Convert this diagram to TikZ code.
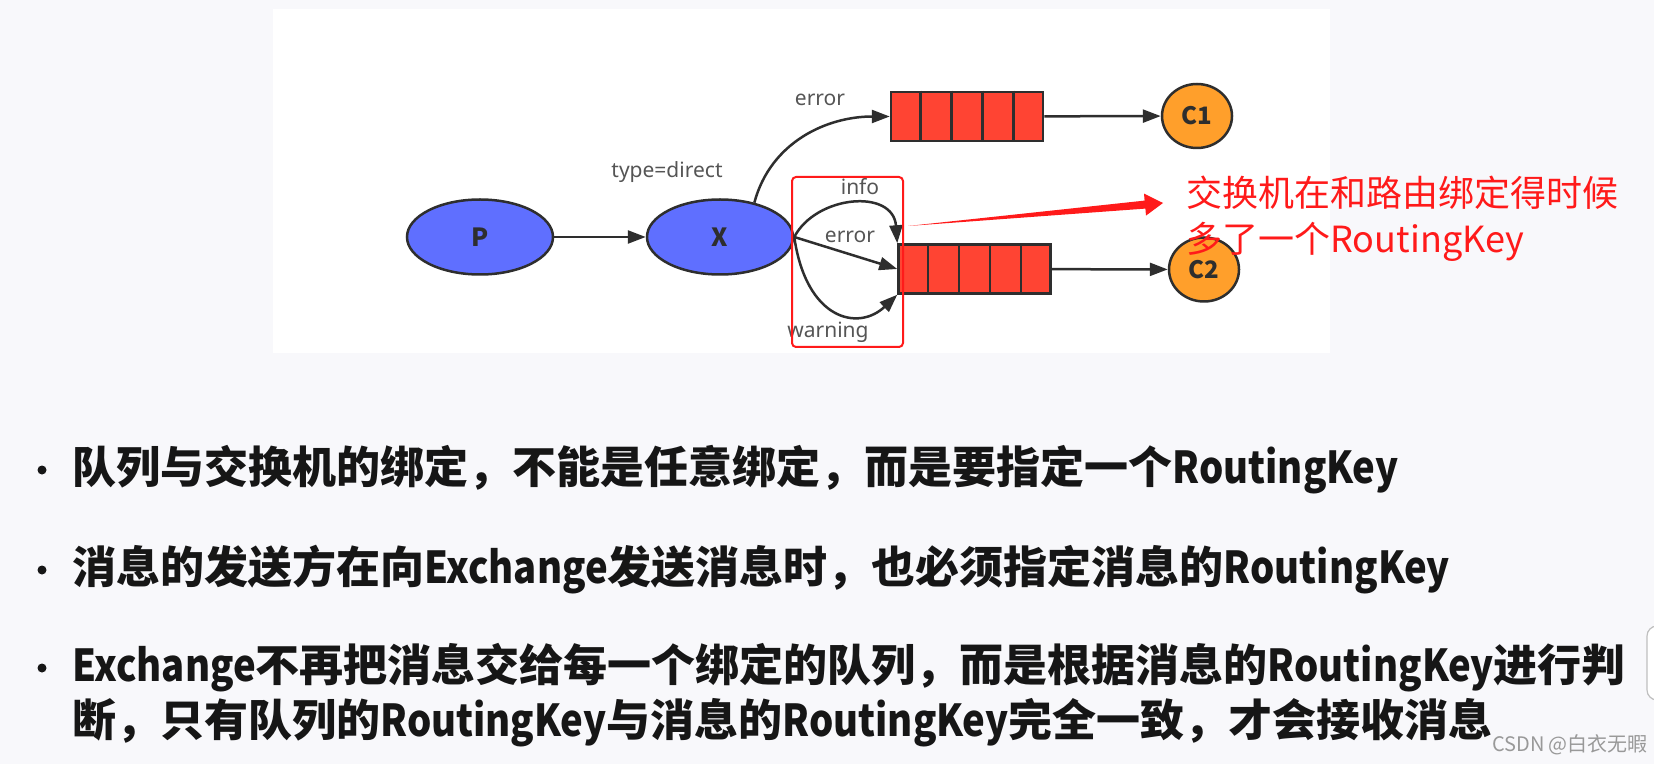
\documentclass[tikz,border=0pt]{standalone}
\usepackage{fontspec}
\usepackage{graphicx}
\newfontfamily\cjk{Noto Sans CJK SC}
\newfontfamily\lab{Noto Sans}
\newcommand\narrowlat[1]{\scalebox{0.87}[1]{#1}}
\usetikzlibrary{arrows.meta,shapes.geometric,calc}
\definecolor{pagebg}{HTML}{F8F8FB}
\definecolor{blueN}{HTML}{5F6FFF}
\definecolor{qred}{HTML}{FF4433}
\definecolor{orangeN}{HTML}{FF9F2B}
\definecolor{edge}{HTML}{2E2E2E}
\definecolor{labgray}{HTML}{555555}
\definecolor{annred}{HTML}{FF1A1A}
\definecolor{txt}{HTML}{161616}
\begin{document}
\begin{tikzpicture}[x=0.5pt,y=-0.5pt,
  ell/.style={ellipse, draw=edge, line width=1.25pt, fill=blueN, inner sep=0pt,
    minimum width=73pt, minimum height=37.5pt,
    font=\cjk\bfseries\fontsize{12.5}{14}\selectfont, text=edge},
  cons/.style={ellipse, draw=edge, line width=1.25pt, fill=orangeN, inner sep=0pt,
    minimum width=35pt, minimum height=32pt,
    font=\cjk\bfseries\fontsize{12}{14}\selectfont, text=edge},
  queue/.style={rectangle, draw=edge, line width=1.25pt, fill=qred, inner sep=0pt,
    minimum width=76pt, minimum height=24.5pt},
  link/.style={draw=edge, line width=1.25pt, -{Triangle[length=9pt,width=6.5pt]}},
  lbl/.style={font=\lab\fontsize{10.5}{12}\selectfont, text=labgray, inner sep=0pt},
  bul/.style={anchor=west, inner sep=0pt, font=\cjk\bfseries\fontsize{22}{26}\selectfont, text=txt},
]
\useasboundingbox (0,0) rectangle (1654,764);
\clip (0,0) rectangle (1654,764);
\fill[pagebg] (0,0) rectangle (1654,764);
\fill[white] (273,9) rectangle (1330,353);

% nodes
\node[ell] (P) at (480,237) {P};
\node[ell] (X) at (720,237) {X};
\node[queue] (q1) at (967,116.5) {};
\node[queue] (q2) at (974.5,269) {};
\node[cons] (C1) at (1197,116) {C1};
\node[cons] (C2) at (1204,269.5) {C2};
\foreach \q in {q1,q2}{
  \foreach \i in {1,...,4}{
    \draw[edge, line width=1.25pt] ($(\q.north west)!\i/5!(\q.north east)$) -- ($(\q.south west)!\i/5!(\q.south east)$);
  }
}

% links
\draw[link] (P) -- (X);
\draw[link] (X.45) to[out=75,in=180] (q1.west);
\draw[link] (q1) -- (C1);
\draw[link] (q2) -- (C2);
\draw[link] (X.east) .. controls +(22,-42) and +(-4,-55) .. (q2.north west);
\draw[link] (X.east) -- (q2.west);
\draw[link] (X.east) .. controls +(12,83) and +(-39,37) .. (q2.south west);

% labels
\node[lbl] (ltype) at (667,172) {type=direct};
\node[lbl] (lerr1) at (820,100) {error};
\node[lbl] (linfo) at (860,187) {info};
\node[lbl] (lerr2) at (850,237) {error};
\node[lbl] (lwarn) at (828,332) {warning};

% highlight box
\draw[annred, line width=1pt, rounded corners=2pt] (792,177) rectangle (903,347);

% tapered red arrow
\fill[annred] (908,226) -- (1144.6,200.6) -- (1144,193.6) -- (1163,203) -- (1146,215.6) -- (1145.4,208.6) -- cycle;

\node[anchor=west, inner sep=0pt, text=annred, font=\cjk\fontsize{18}{23}\selectfont, align=left] (ann) at (1186,219)
  {交换机在和路由绑定得时候\\多了一个RoutingKey};

% bullets
\foreach \yy in {470,570,668}{ \fill[txt] (42,\yy) circle (4.5); }
\node[bul] (b1) at (72,470) {队列与交换机的绑定，不能是任意绑定，而是要指定一个\narrowlat{RoutingKey}};
\node[bul] (b2) at (72,570) {消息的发送方在向\narrowlat{Exchange}发送消息时，也必须指定消息的\narrowlat{RoutingKey}};
\node[bul] (b3) at (72,668) {\narrowlat{Exchange}不再把消息交给每一个绑定的队列，而是根据消息的\narrowlat{RoutingKey}进行判};
\node[bul] (b4) at (72,723) {断，只有队列的\narrowlat{RoutingKey}与消息的\narrowlat{RoutingKey}完全一致，才会接收消息};

% watermark
\node[inner sep=0pt, text=black!40, font=\cjk\fontsize{10}{12}\selectfont] (wm) at (1570,745) {CSDN @白衣无暇};

% scrollbar artifact
\draw[black!25, fill=white, line width=0.6pt, rounded corners=5pt] (1647,626) rectangle (1675,700);
\end{tikzpicture}
\end{document}
